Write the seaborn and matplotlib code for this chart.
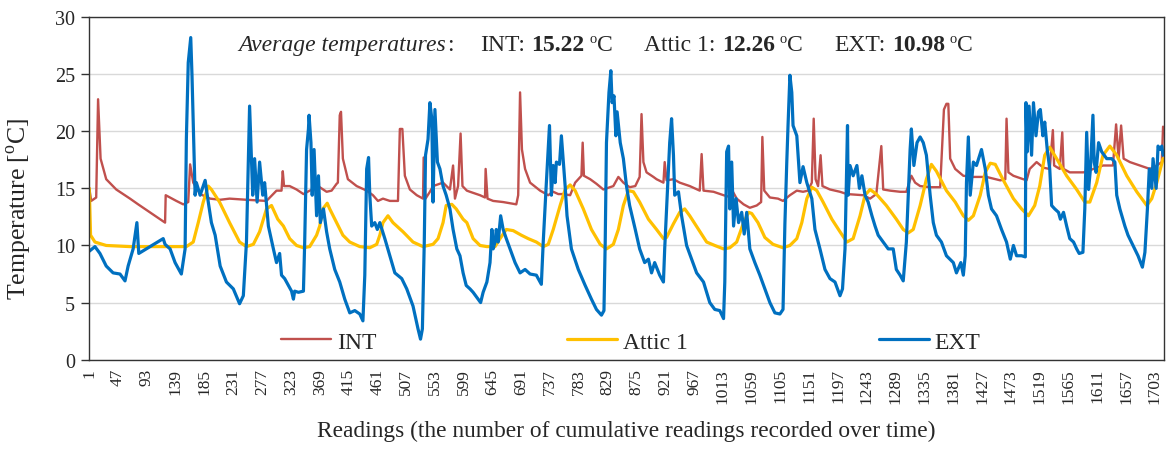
import pandas as pd
import seaborn as sns
import matplotlib.pyplot as plt
from matplotlib.transforms import IdentityTransform

# readings / temperatures
int_readings = [1, 4, 12, 15, 19, 28, 44, 66, 79, 122, 123, 140, 151, 159, 162, 167, 178, 194, 210, 225,
                252, 284, 300, 308, 310, 312, 321, 332, 343, 353, 369, 380, 388, 396, 398, 401, 403, 406, 414, 428,
                444, 454, 462, 470, 481, 494, 497, 501, 505, 513, 524, 534, 535, 538, 545, 550, 566, 577, 582, 585,
                590, 594, 597, 604, 609, 625, 633, 634, 637, 646, 662, 683, 686, 689, 692, 697, 705, 721, 734, 742,
                750, 758, 769, 777, 787, 789, 791, 801, 811, 822, 838, 846, 854, 864, 873, 880, 883, 886, 891, 902,
                907, 918, 920, 923, 934, 944, 960, 976, 979, 982, 998, 1014, 1027, 1028, 1035, 1046, 1056, 1067, 1074, 1076,
                1079, 1088, 1101, 1109, 1120, 1131, 1141, 1149, 1155, 1158, 1161, 1165, 1169, 1172, 1184, 1200, 1211, 1237, 1248, 1258,
                1266, 1269, 1280, 1296, 1306, 1314, 1320, 1328, 1344, 1360, 1366, 1370, 1373, 1376, 1384, 1397, 1413, 1434, 1456, 1464,
                1466, 1469, 1477, 1493, 1498, 1503, 1514, 1525, 1535, 1540, 1542, 1551, 1555, 1557, 1567, 1589, 1605, 1620, 1636, 1641,
                1645, 1649, 1653, 1663, 1679, 1690, 1695, 1706, 1714, 1716]
int_temps = [15.0, 13.9, 14.2, 22.8, 17.6, 15.8, 14.9, 14.1, 13.6, 12.0, 14.4, 13.9, 13.6, 13.8, 17.1, 15.5, 14.5, 14.1, 14.0, 14.1,
             14.0, 13.9, 14.8, 14.8, 16.5, 15.2, 15.2, 14.9, 14.5, 14.8, 15.1, 14.7, 14.8, 15.4, 15.5, 21.4, 21.7, 17.6, 15.8, 15.2,
             14.8, 14.4, 13.9, 14.1, 13.9, 13.9, 20.2, 20.2, 16.1, 14.9, 14.4, 14.1, 17.7, 14.1, 14.7, 15.2, 15.5, 14.9, 17.0, 14.1,
             15.2, 19.8, 15.2, 14.8, 14.7, 14.4, 14.2, 16.7, 14.1, 13.9, 13.8, 13.6, 14.4, 23.4, 18.4, 16.7, 15.5, 14.8, 14.4, 14.7,
             14.5, 14.5, 14.4, 15.5, 16.1, 19.0, 16.1, 15.8, 15.4, 14.9, 15.2, 16.0, 15.5, 15.1, 15.2, 16.0, 21.5, 17.3, 16.4, 16.0,
             15.8, 15.5, 17.3, 15.7, 15.8, 15.5, 15.2, 14.8, 18.0, 14.8, 14.7, 14.4, 14.2, 14.8, 14.1, 13.6, 13.3, 13.5, 13.8, 19.5,
             14.8, 14.2, 14.1, 13.9, 14.4, 14.8, 14.7, 14.8, 15.5, 21.1, 15.8, 15.2, 17.9, 15.2, 14.9, 14.7, 14.5, 14.4, 14.1, 14.5,
             18.7, 14.9, 14.8, 14.7, 14.7, 16.1, 15.5, 15.2, 15.1, 15.1, 21.9, 22.4, 22.4, 17.6, 16.7, 16.1, 16.0, 16.0, 15.7, 15.8,
             21.1, 16.4, 16.1, 15.8, 15.7, 16.7, 17.3, 16.8, 16.7, 20.1, 17.0, 16.7, 19.9, 16.7, 16.4, 16.4, 16.7, 17.0, 17.0, 20.6,
             17.6, 20.5, 17.6, 17.3, 17.0, 16.8, 16.7, 17.0, 17.3, 20.4]

attic_readings = [1, 3, 10, 28, 66, 119, 146, 156, 167, 175, 183, 191, 196, 209, 225, 241, 252, 263, 273, 284,
                  292, 302, 311, 321, 332, 343, 353, 364, 369, 374, 381, 385, 396, 406, 417, 433, 449, 460, 465, 470,
                  478, 486, 502, 518, 534, 550, 558, 566, 571, 580, 587, 598, 604, 614, 625, 636, 649, 657, 667, 678,
                  691, 702, 715, 726, 734, 742, 753, 761, 769, 777, 790, 803, 817, 827, 838, 846, 854, 862, 870, 880,
                  894, 907, 918, 923, 934, 944, 952, 960, 974, 987, 1000, 1014, 1024, 1035, 1046, 1054, 1059, 1069, 1080, 1093,
                  1109, 1120, 1131, 1139, 1147, 1155, 1163, 1173, 1187, 1200, 1211, 1221, 1232, 1240, 1248, 1258, 1274, 1290, 1301, 1309,
                  1317, 1328, 1338, 1346, 1354, 1370, 1384, 1397, 1405, 1413, 1424, 1432, 1440, 1448, 1461, 1477, 1490, 1501, 1511, 1519,
                  1527, 1535, 1546, 1562, 1578, 1591, 1599, 1610, 1620, 1631, 1642, 1658, 1674, 1690, 1698, 1706, 1716]
attic_temps = [15.0, 10.9, 10.3, 10.0, 9.9, 9.9, 9.9, 9.9, 10.3, 12.0, 13.8, 15.2, 14.9, 13.8, 12.0, 10.3, 9.9, 10.1, 11.2, 13.2,
               13.5, 12.3, 11.7, 10.6, 10.0, 9.8, 9.9, 10.9, 11.7, 13.2, 13.7, 13.2, 12.0, 10.9, 10.3, 9.9, 9.8, 10.1, 10.9, 12.0,
               12.6, 12.0, 11.2, 10.3, 9.9, 10.1, 10.6, 12.0, 13.5, 13.6, 13.2, 12.3, 12.0, 10.6, 10.0, 9.9, 9.9, 10.6, 11.4, 11.3,
               10.9, 10.6, 10.3, 9.9, 10.1, 11.4, 13.5, 14.9, 15.3, 14.8, 13.2, 11.4, 10.1, 9.7, 10.1, 11.4, 13.5, 14.8, 14.7, 13.8,
               12.3, 11.4, 10.6, 10.7, 11.9, 12.9, 13.2, 12.6, 11.4, 10.3, 10.0, 9.7, 9.8, 10.3, 12.0, 12.9, 12.8, 12.0, 10.7, 10.1,
               9.8, 10.0, 10.6, 12.0, 14.1, 15.1, 14.8, 13.8, 12.3, 11.2, 10.3, 10.6, 12.6, 14.4, 14.9, 14.5, 13.5, 12.3, 11.4, 11.1,
               11.4, 13.5, 15.8, 17.1, 16.5, 14.8, 13.8, 12.6, 12.2, 12.6, 14.4, 16.4, 17.2, 17.1, 15.7, 14.1, 13.2, 12.6, 13.5, 15.2,
               17.9, 18.6, 17.6, 16.1, 14.9, 13.8, 13.8, 15.5, 17.9, 18.7, 17.9, 16.1, 14.7, 13.5, 14.1, 15.5, 17.6]

ext_readings = [1, 10, 18, 28, 39, 50, 58, 63, 71, 77, 80, 119, 122, 130, 138, 148, 154, 156, 159, 163,
                165, 170, 172, 178, 186, 191, 196, 202, 210, 220, 231, 241, 247, 252, 255, 257, 262, 265, 269, 273,
                278, 281, 287, 295, 300, 305, 308, 313, 319, 324, 327, 329, 335, 343, 345, 348, 351, 352, 355, 357,
                360, 364, 367, 370, 375, 380, 385, 393, 401, 409, 417, 425, 433, 438, 441, 444, 447, 449, 452, 457,
                461, 465, 473, 481, 489, 500, 508, 518, 526, 530, 533, 536, 538, 542, 545, 548, 550, 553, 557, 561,
                566, 571, 577, 582, 588, 593, 598, 603, 609, 614, 622, 626, 630, 636, 641, 644, 646, 649, 651, 654,
                658, 662, 667, 673, 681, 689, 697, 705, 715, 723, 726, 731, 736, 739, 742, 745, 747, 752, 755, 761,
                764, 771, 782, 793, 803, 811, 819, 823, 825, 827, 831, 834, 836, 839, 842, 844, 849, 854, 859, 864,
                873, 880, 888, 894, 899, 904, 912, 918, 920, 923, 928, 931, 934, 936, 942, 947, 955, 963, 971, 982,
                992, 1000, 1008, 1014, 1016, 1019, 1022, 1024, 1027, 1030, 1034, 1038, 1043, 1047, 1051, 1056, 1064, 1072, 1080, 1088,
                1096, 1104, 1109, 1112, 1115, 1117, 1120, 1123, 1125, 1131, 1136, 1141, 1147, 1155, 1160, 1168, 1176, 1184, 1192, 1200,
                1204, 1208, 1212, 1213, 1216, 1221, 1227, 1231, 1235, 1240, 1245, 1251, 1256, 1261, 1269, 1277, 1285, 1290, 1296, 1301,
                1306, 1312, 1314, 1318, 1323, 1328, 1333, 1338, 1344, 1349, 1354, 1362, 1370, 1381, 1386, 1393, 1397, 1400, 1402, 1405,
                1408, 1413, 1418, 1426, 1432, 1437, 1442, 1450, 1458, 1466, 1472, 1477, 1482, 1490, 1496, 1497, 1499, 1502, 1506, 1509,
                1513, 1517, 1520, 1524, 1527, 1531, 1535, 1538, 1543, 1549, 1552, 1557, 1562, 1567, 1573, 1578, 1582, 1588, 1591, 1594,
                1597, 1600, 1604, 1606, 1609, 1613, 1618, 1626, 1634, 1639, 1642, 1647, 1655, 1660, 1668, 1676, 1683, 1687, 1691, 1694,
                1698, 1700, 1705, 1708, 1711, 1714, 1716]
ext_temps = [9.5, 9.9, 9.3, 8.2, 7.6, 7.5, 6.9, 8.2, 9.7, 12.0, 9.3, 10.6, 10.1, 9.7, 8.5, 7.5, 9.7, 19.3, 26.0, 28.2,
             24.9, 14.4, 15.5, 14.4, 15.7, 13.8, 12.0, 10.9, 8.2, 6.8, 6.2, 4.9, 5.6, 10.3, 17.6, 22.2, 14.4, 17.6, 13.8, 17.3,
             14.4, 15.5, 11.7, 9.7, 8.5, 9.3, 7.4, 7.1, 6.5, 6.0, 5.3, 6.0, 5.9, 6.0, 10.3, 18.4, 20.2, 21.4, 19.0, 14.4,
             18.4, 12.6, 16.1, 12.0, 13.2, 11.2, 9.7, 7.9, 6.8, 5.3, 4.1, 4.3, 4.0, 3.4, 7.4, 16.7, 17.7, 14.4, 11.7, 12.0,
             11.4, 12.0, 10.6, 9.1, 7.6, 7.1, 6.2, 4.7, 2.7, 1.8, 2.7, 10.3, 17.9, 19.3, 22.5, 21.1, 13.8, 21.9, 17.3, 16.7,
             15.2, 14.4, 13.2, 11.4, 9.7, 9.1, 7.6, 6.5, 6.2, 5.9, 5.3, 5.0, 5.9, 6.8, 8.5, 11.4, 9.7, 10.3, 11.4, 10.3,
             12.6, 11.4, 10.6, 9.7, 8.5, 7.6, 7.9, 7.5, 7.4, 6.6, 10.3, 15.5, 20.5, 14.4, 17.0, 15.5, 17.3, 17.1, 19.6, 15.2,
             12.6, 9.7, 7.9, 6.5, 5.3, 4.4, 3.9, 4.3, 10.3, 19.0, 23.4, 25.3, 22.5, 23.1, 19.6, 21.7, 19.0, 17.6, 15.2, 13.5,
             11.4, 9.7, 8.5, 8.8, 7.6, 8.5, 7.4, 6.8, 9.7, 13.2, 19.0, 21.1, 17.9, 14.4, 14.7, 12.6, 10.0, 8.8, 7.6, 6.8,
             5.0, 4.4, 4.3, 3.6, 6.8, 18.2, 18.7, 13.2, 17.3, 11.7, 14.1, 12.0, 12.9, 11.0, 12.9, 9.7, 8.5, 7.4, 6.2, 5.0,
             4.1, 4.0, 4.4, 11.9, 17.3, 20.5, 24.9, 23.4, 20.5, 19.6, 15.5, 16.9, 15.5, 14.1, 11.4, 9.7, 7.9, 7.1, 6.8, 5.6,
             6.2, 9.7, 20.5, 14.4, 17.0, 16.1, 17.0, 15.0, 16.1, 14.4, 13.8, 12.6, 11.7, 10.9, 10.3, 9.7, 9.7, 7.9, 7.4, 6.9,
             10.3, 18.4, 20.2, 17.0, 19.0, 19.5, 19.0, 17.9, 14.4, 12.0, 10.9, 10.3, 9.1, 8.5, 7.6, 8.5, 7.4, 9.1, 15.5, 19.5,
             14.4, 17.3, 17.0, 18.4, 16.7, 14.4, 13.2, 12.6, 11.4, 10.3, 8.8, 10.0, 9.1, 9.1, 9.0, 22.5, 18.2, 22.2, 17.9, 22.5,
             19.6, 21.7, 21.9, 19.6, 20.8, 18.4, 16.7, 13.5, 13.2, 12.9, 12.3, 12.9, 11.7, 10.6, 10.3, 9.7, 9.3, 9.4, 13.2, 19.9,
             14.9, 16.7, 21.4, 17.3, 16.4, 19.0, 18.2, 17.6, 17.6, 17.3, 14.4, 13.2, 11.7, 10.9, 10.0, 9.1, 8.1, 9.4, 13.2, 16.7,
             15.0, 17.6, 15.0, 18.7, 18.4, 18.7, 17.9]

tick_readings = [1, 47, 93, 139, 185, 231, 277, 323, 369, 415, 461, 507, 553, 599, 645, 691, 737, 783, 829,
                 875, 921, 967, 1013, 1059, 1105, 1151, 1197, 1243, 1289, 1335, 1381, 1427, 1473, 1519, 1565,
                 1611, 1657, 1703]

series_names = ["INT", "Attic 1", "EXT"]
averages = ["15.22", "12.26", "10.98"]

sns.set_theme(style="white")
plt.rcParams['font.family'] = ['Liberation Serif', 'DejaVu Serif']
plt.rcParams['mathtext.fontset'] = 'custom'
plt.rcParams['mathtext.rm'] = 'Liberation Serif'

W, H = 1171, 452
fig = plt.figure(figsize=(W / 100, H / 100), dpi=100)
ax = fig.add_axes([89 / W, 1 - 360.7 / H, (1164 - 89) / W, (360.7 - 18) / H])

lines = [(int_readings, int_temps, "#C0504D", 1.7),
         (attic_readings, attic_temps, "#FFC000", 2.3),
         (ext_readings, ext_temps, "#0070C0", 2.3)]
for name, (xs, ys, color, lw) in zip(series_names, lines):
    sns.lineplot(x=xs, y=ys, ax=ax, color=color, linewidth=lw, label=name,
                 estimator=None, sort=False)

ax.set_xlim(0.5, 1717.5)
ax.set_ylim(0, 30)
ax.set_yticks(range(0, 31, 5))
ax.set_xticks(tick_readings)
ax.set_xticklabels([str(t) for t in tick_readings], rotation=90, fontsize=12.5)
ax.tick_params(axis='y', labelsize=14.5, length=6, width=1, color='#333333', direction='out', pad=4, left=True)
ax.tick_params(axis='x', length=0, pad=6)
ax.grid(axis='y', color='#D9D9D9', linewidth=1)
ax.set_axisbelow(True)
for sp in ax.spines.values():
    sp.set_color('#333333')
    sp.set_linewidth(1.0)

ax.set_xlabel("Readings (the number of cumulative readings recorded over time)", fontsize=16.8, labelpad=12)
ax.set_ylabel(r"Temperature [$^{\mathrm{o}}$C]", fontsize=18.5)
ax.yaxis.set_label_coords(-0.051, 0.443)

ax.legend(loc='center', bbox_to_anchor=(0.504, 0.052), ncol=3, frameon=False,
          fontsize=17, handlelength=2.1, handletextpad=0.25, columnspacing=8.1)

# average temperatures line, built from pieces with mixed styles
runs = [("Average temperatures", dict(style='italic'), 1),
        (":", {}, 27),
        (series_names[0] + ":", {}, 6), (averages[0], dict(weight='bold'), 5), ("o", dict(size=10.5, rise=8), 0),
        ("C", {}, 32),
        (series_names[1] + ":", {}, 6), (averages[1], dict(weight='bold'), 5), ("o", dict(size=10.5, rise=8), 0),
        ("C", {}, 32),
        (series_names[2] + ":", {}, 6), (averages[2], dict(weight='bold'), 5), ("o", dict(size=10.5, rise=8), 0),
        ("C", {}, 0)]
renderer = fig.canvas.get_renderer()
x = 238
for text, kw, gap in runs:
    kw = dict(kw)
    rise = kw.pop('rise', 0)
    size = kw.pop('size', 17)
    t = fig.text(x, H - 51 + rise, text, transform=IdentityTransform(), ha='left', va='baseline',
                 fontsize=size, **kw)
    x = t.get_window_extent(renderer).x1 + gap

fig.savefig("out.png", dpi=100)
